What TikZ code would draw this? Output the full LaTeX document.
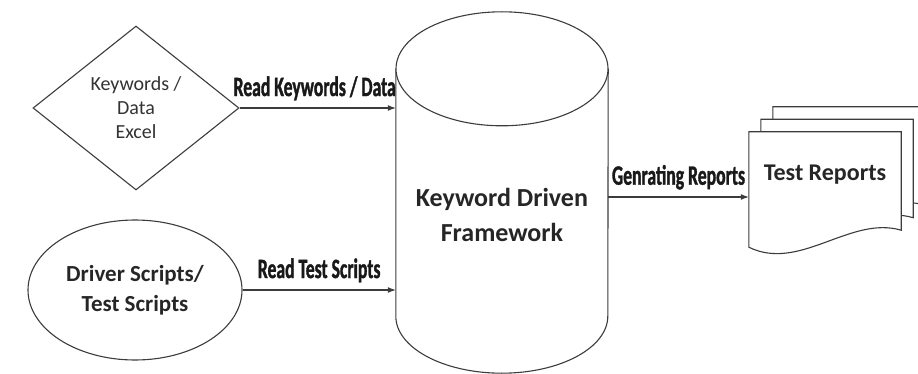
\documentclass[tikz,border=0pt]{standalone}
\usepackage{fontspec}
\setmainfont{Carlito}
\newfontfamily\condfont[FakeStretch=0.63,FakeBold=1.2]{Carlito}
\usetikzlibrary{shapes.geometric,arrows.meta,calc}
\definecolor{inkgray}{HTML}{3C3C3C}
\tikzset{
  outline/.style={draw=inkgray, line width=1.1pt, fill=white},
  flow/.style={draw=inkgray, line width=1.1pt, -{Latex[length=8pt,width=6pt]}},
  flowlabel/.style={font=\condfont\bfseries\fontsize{28}{30}\selectfont, text=black!90, above=7pt, midway, inner sep=0pt},
  boldtext/.style n args={2}{font=\bfseries\fontsize{#1}{#2}\selectfont, text=black!85, align=center},
}
% one sheet of the report stack, shifted by (#1,#2) from the front sheet
\newcommand\reportsheet[2]{%
  \draw[outline] ([shift={(#1,#2)}]rep.north west) -- ([shift={(#1,#2)}]rep.north east)
    -- ([shift={(#1,#2)}]rep.south east)
    .. controls ([shift={(#1-51,#2-15)}]rep.south east) and ([shift={(#1+51,#2+42)}]rep.south west)
    .. ([shift={(#1,#2+17)}]rep.south west) -- cycle;}

\begin{document}
\begin{tikzpicture}[x=1pt,y=-1pt]
\useasboundingbox (0,0) rectangle (918,374);
% inputs
\node[outline, diamond, aspect=1.25, minimum width=206pt, minimum height=164pt, inner sep=0pt, align=center, text=black!80, font=\fontsize{20}{24}\selectfont] (kwdata) at (136,108) {Keywords /\\Data\\Excel};
\node[outline, ellipse, minimum width=214pt, minimum height=140pt, inner sep=0pt, boldtext={23}{30}] (driver) at (135,290) {Driver Scripts/\\Test Scripts};
% framework cylinder
\node[minimum width=212pt, minimum height=247pt, inner sep=0pt] (kdf) at (502,192.5) {};
\draw[outline] (kdf.north west) -- (kdf.south west) arc[start angle=180, end angle=360, x radius=106pt, y radius=57pt] -- (kdf.north east);
\draw[outline] (kdf.north) ellipse [x radius=106pt, y radius=57pt];
\node[boldtext={26}{35}] (kdftext) at ([yshift=-22pt]kdf.center) {Keyword Driven\\Framework};
% report stack
\node[minimum width=152pt, minimum height=98pt, inner sep=0pt] (rep) at (825,181) {};
\reportsheet{24}{-25}
\reportsheet{12}{-12.5}
\reportsheet{0}{0}
\node[boldtext={24}{28}] (reptext) at ([yshift=6pt]rep.center) {Test Reports};
% connectors
\draw[flow] (kwdata.east) -- (kwdata.east -| kdf.west) node[flowlabel, xshift=-3pt] {Read Keywords / Data};
\draw[flow] (driver.east) -- (driver.east -| kdf.west) node[flowlabel] {Read Test Scripts};
\coordinate (repin) at ([yshift=-16pt]rep.west);
\draw[flow] (kdf.east |- repin) -- (repin) node[flowlabel] {Genrating Reports};
\end{tikzpicture}
\end{document}
